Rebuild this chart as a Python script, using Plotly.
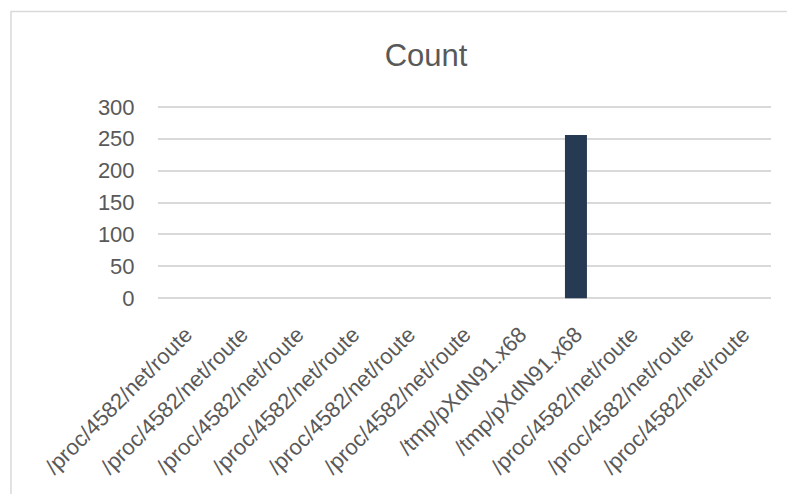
import plotly.graph_objects as go

# File paths reported by the sample, in order, and how often each was seen
paths = [
    "/proc/4582/net/route",
    "/proc/4582/net/route",
    "/proc/4582/net/route",
    "/proc/4582/net/route",
    "/proc/4582/net/route",
    "/proc/4582/net/route",
    "/tmp/pXdN91.x68",
    "/tmp/pXdN91.x68",
    "/proc/4582/net/route",
    "/proc/4582/net/route",
    "/proc/4582/net/route",
]
counts = [0, 0, 0, 0, 0, 0, 0, 256, 0, 0, 0]
y_ticks = [0, 50, 100, 150, 200, 250, 300]

W, H = 787, 494
Y_MIN, Y_MAX = -6, 306
PX_PER_UNIT = 0.6387
L, R = 158, 16
ZERO_Y = 298.5
T = ZERO_Y - (Y_MAX - 0) * PX_PER_UNIT
B = H - ZERO_Y - (0 - Y_MIN) * PX_PER_UNIT
plot_w = W - L - R
plot_h = H - T - B

text_color = "#595959"
grid_color = "#d9d9d9"
font = "Liberation Sans, Arial, sans-serif"

positions = list(range(len(paths)))

fig = go.Figure(
    go.Bar(
        x=positions,
        y=counts,
        base=0,
        marker=dict(color="#263b53", line=dict(width=0)),
        hoverinfo="x+y",
    )
)


def px_x(p):
    return (p - L) / plot_w


def px_y(p):
    return (H - B - p) / plot_h


# Light chart-area frame around the whole chart
fig.add_shape(
    type="rect",
    xref="paper", yref="paper",
    x0=px_x(11), x1=px_x(W + 20),
    y0=px_y(H + 20), y1=px_y(11.5),
    line=dict(color=grid_color, width=1.5),
    fillcolor="rgba(0,0,0,0)",
    layer="below",
)

fig.update_layout(
    width=W,
    height=H,
    margin=dict(l=L, r=R, t=T, b=B, pad=0),
    paper_bgcolor="white",
    plot_bgcolor="white",
    showlegend=False,
    bargap=0.605,
    font=dict(family=font, color=text_color, size=22),
    title=dict(
        text="Count",
        xref="container", x=426 / W, xanchor="center",
        yref="container", y=1 - 55 / H, yanchor="middle",
        font=dict(family=font, size=31, color=text_color),
    ),
)

fig.update_xaxes(
    tickmode="array",
    tickvals=positions,
    ticktext=paths,
    tickangle=-45,
    range=[-0.5, len(paths) - 0.5],
    showgrid=False,
    zeroline=False,
    showline=False,
    ticks="outside",
    ticklen=10,
    tickcolor="rgba(0,0,0,0)",
    tickfont=dict(family=font, size=22, color=text_color),
)

fig.update_yaxes(
    range=[Y_MIN, Y_MAX],
    tickmode="array",
    tickvals=y_ticks,
    showgrid=True,
    gridcolor=grid_color,
    gridwidth=1.5,
    zeroline=False,
    showline=False,
    ticks="outside",
    ticklen=18,
    tickcolor="rgba(0,0,0,0)",
    tickfont=dict(family=font, size=22, color=text_color),
)

fig.write_html("out.html")
